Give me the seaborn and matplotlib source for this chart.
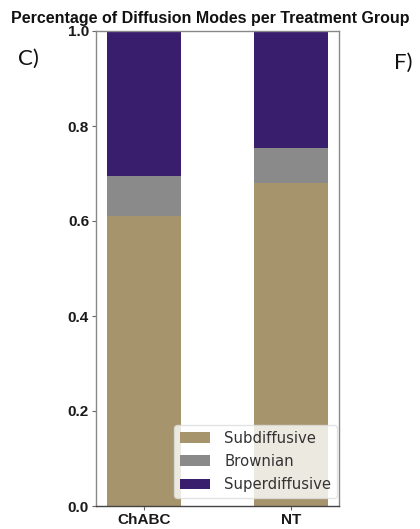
import matplotlib
matplotlib.use("Agg")
import matplotlib.pyplot as plt
import seaborn as sns
import pandas as pd
import numpy as np

groups = ["ChABC", "NT"]
modes = ["Subdiffusive", "Brownian", "Superdiffusive"]
subdiffusive = [0.61, 0.68]
brownian = [0.085, 0.074]
superdiffusive = [0.305, 0.246]
colors = ["#a6946c", "#8a8a8a", "#3a1e6e"]

sns.set_style("white")

df = pd.DataFrame({"group": groups, "Subdiffusive": subdiffusive,
                   "Brownian": brownian, "Superdiffusive": superdiffusive})

fig = plt.figure(figsize=(4.2, 5.29), dpi=100)
ax = fig.add_axes([96/420, 1 - 506/529, (339-96)/420, (506-31)/529])

bottom = np.zeros(len(groups))
for mode, c in zip(modes, colors):
    sns.barplot(data=df, x="group", y=mode, color=c, width=0.5, bottom=bottom,
                ax=ax, label=mode, saturation=1, linewidth=0)
    bottom = bottom + df[mode].values

ax.set_xlim(-0.325, 1.325)
ax.set_ylim(0, 1.0)
ax.set_yticks([0, 0.2, 0.4, 0.6, 0.8, 1.0])
ax.set_yticklabels(["0.0", "0.2", "0.4", "0.6", "0.8", "1.0"])
ax.set_xlabel("")
ax.set_ylabel("")
for name, s in ax.spines.items():
    s.set_color("#888888" if name != "bottom" else "#444444")
    s.set_linewidth(1.0)
ax.tick_params(axis="both", which="both", length=3, width=0.8, color="#666666",
               labelsize=11, labelcolor="#1a1a1a", bottom=True, left=True, pad=2)
for lab in ax.get_xticklabels() + ax.get_yticklabels():
    lab.set_fontweight("bold")
    lab.set_fontfamily("Liberation Sans")

leg = ax.legend(loc="lower right", bbox_to_anchor=(0.992, 0.017),
                prop={"family": "DejaVu Sans", "size": 10.7},
                frameon=True, handlelength=2.0, handleheight=0.7, borderpad=0.4,
                labelspacing=0.55, handletextpad=0.95, borderaxespad=0.0)
leg.get_frame().set_edgecolor("#dddddd")
leg.get_frame().set_alpha(0.8)
for t in leg.get_texts():
    t.set_color("#333333")

fig.text(0.5, 1 - 18/529, "Percentage of Diffusion Modes per Treatment Group",
         ha="center", va="center", fontsize=11.5, fontweight="bold",
         family="Liberation Sans", color="#111111")
fig.text(28/420, 1 - 59/529, "C)", ha="center", va="center", fontsize=16,
         family="Lato", color="#111111")
fig.text(403/420, 1 - 63/529, "F)", ha="center", va="center", fontsize=16,
         family="Lato", color="#111111")

fig.savefig("out.png", dpi=100)
